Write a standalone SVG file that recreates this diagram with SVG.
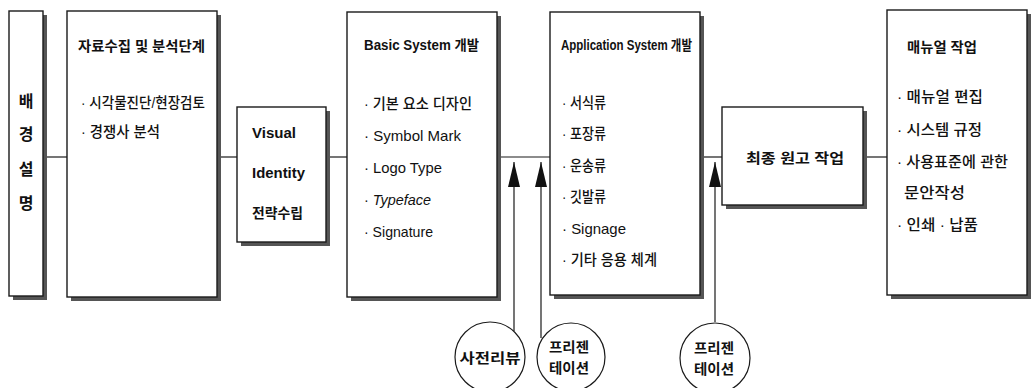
<svg xmlns="http://www.w3.org/2000/svg" width="1034" height="388" viewBox="0 0 1034 388">
<style>
  .box{fill:#fff;stroke:#1a1a1a;stroke-width:1.4}
  .sh{fill:#555}
  .conn{stroke:#1a1a1a;stroke-width:1.2;fill:none}
  .circ{fill:#fff;stroke:#1a1a1a;stroke-width:1.2}
  text{font-family:"Liberation Sans","Noto Sans CJK KR",sans-serif;fill:#111}
  .t{font-size:14px;font-weight:bold}
  .b{font-size:14.5px;font-weight:500}
  .v{font-size:16px;font-weight:bold}
  .c{font-size:14px;font-weight:bold;text-anchor:middle}
</style>
<defs>
  <marker id="ah" viewBox="0 0 25 12" refX="25" refY="6" markerWidth="25" markerHeight="12" markerUnits="userSpaceOnUse" orient="auto">
    <path d="M0,0 L25,6 L0,12 z" fill="#111"/>
  </marker>
</defs>

<g id="connectors">
  <line class="conn" x1="43" y1="157" x2="67" y2="157"/>
  <line class="conn" x1="217" y1="157" x2="237" y2="157"/>
  <line class="conn" x1="326" y1="157" x2="347" y2="157"/>
  <line class="conn" x1="497" y1="157" x2="550" y2="157"/>
  <line class="conn" x1="700" y1="157" x2="722" y2="157"/>
  <line class="conn" x1="863" y1="157" x2="887" y2="157"/>
  <line class="conn" x1="514" y1="331" x2="514" y2="162" marker-end="url(#ah)"/>
  <line class="conn" x1="541" y1="338" x2="541" y2="162" marker-end="url(#ah)"/>
  <line class="conn" x1="715" y1="322" x2="715" y2="162" marker-end="url(#ah)"/>
</g>

<g id="node-background">
  <rect class="sh" x="13" y="15" width="34" height="285"/>
  <rect class="box" x="9" y="11" width="34" height="285"/>
  <text class="v" x="26" y="107" text-anchor="middle">배</text>
  <text class="v" x="26" y="140" text-anchor="middle">경</text>
  <text class="v" x="26" y="175" text-anchor="middle">설</text>
  <text class="v" x="26" y="209" text-anchor="middle">명</text>
</g>

<g id="node-research">
  <rect class="sh" x="71" y="15" width="150" height="286"/>
  <rect class="box" x="67" y="11" width="150" height="286"/>
  <text class="t" x="78" y="51" textLength="127" lengthAdjust="spacingAndGlyphs">자료수집 및 분석단계</text>
  <text class="b" x="81" y="108" textLength="124" lengthAdjust="spacingAndGlyphs">· 시각물진단/현장검토</text>
  <text class="b" x="81" y="137" textLength="79" lengthAdjust="spacingAndGlyphs">· 경쟁사 분석</text>
</g>

<g id="node-vi">
  <rect class="sh" x="241" y="111" width="89" height="135"/>
  <rect class="box" x="237" y="107" width="89" height="135"/>
  <text class="t" x="252" y="138" font-size="15" textLength="44" lengthAdjust="spacingAndGlyphs">Visual</text>
  <text class="t" x="252" y="178" font-size="15" textLength="53" lengthAdjust="spacingAndGlyphs">Identity</text>
  <text class="t" x="252" y="218" font-size="15" textLength="51" lengthAdjust="spacingAndGlyphs">전략수립</text>
</g>

<g id="node-basic">
  <rect class="sh" x="351" y="16" width="150" height="285"/>
  <rect class="box" x="347" y="12" width="150" height="285"/>
  <text class="t" x="364" y="50" textLength="115" lengthAdjust="spacingAndGlyphs">Basic System 개발</text>
  <text class="b" x="364" y="109" textLength="108" lengthAdjust="spacingAndGlyphs">· 기본 요소 디자인</text>
  <text class="b" x="364" y="141" textLength="97" lengthAdjust="spacingAndGlyphs">· Symbol Mark</text>
  <text class="b" x="364" y="173" textLength="78" lengthAdjust="spacingAndGlyphs">· Logo Type</text>
  <text class="b" x="364" y="205" textLength="67" lengthAdjust="spacingAndGlyphs">· <tspan font-style="italic">Typeface</tspan></text>
  <text class="b" x="364" y="237" textLength="69" lengthAdjust="spacingAndGlyphs">· Signature</text>
</g>

<g id="node-application">
  <rect class="sh" x="554" y="16" width="150" height="283"/>
  <rect class="box" x="550" y="12" width="150" height="283"/>
  <text class="t" x="561" y="50" textLength="131" lengthAdjust="spacingAndGlyphs">Application System 개발</text>
  <text class="b" x="562" y="108" textLength="44" lengthAdjust="spacingAndGlyphs">· 서식류</text>
  <text class="b" x="562" y="139" textLength="44" lengthAdjust="spacingAndGlyphs">· 포장류</text>
  <text class="b" x="562" y="171" textLength="44" lengthAdjust="spacingAndGlyphs">· 운송류</text>
  <text class="b" x="562" y="202" textLength="44" lengthAdjust="spacingAndGlyphs">· 깃발류</text>
  <text class="b" x="562" y="234" textLength="64" lengthAdjust="spacingAndGlyphs">· Signage</text>
  <text class="b" x="562" y="265" textLength="95" lengthAdjust="spacingAndGlyphs">· 기타 응용 체계</text>
</g>

<g id="node-final">
  <rect class="sh" x="726" y="111" width="141" height="98"/>
  <rect class="box" x="722" y="107" width="141" height="98"/>
  <text class="t" x="746" y="163" font-size="16" textLength="98" lengthAdjust="spacingAndGlyphs">최종 원고 작업</text>
</g>

<g id="node-manual">
  <rect class="sh" x="891" y="14" width="140" height="285"/>
  <rect class="box" x="887" y="10" width="140" height="285"/>
  <text class="t" x="907" y="52" textLength="70" lengthAdjust="spacingAndGlyphs">매뉴얼 작업</text>
  <text class="b" x="897" y="102" textLength="86" lengthAdjust="spacingAndGlyphs">· 매뉴얼 편집</text>
  <text class="b" x="897" y="135" textLength="85" lengthAdjust="spacingAndGlyphs">· 시스템 규정</text>
  <text class="b" x="897" y="167" textLength="111" lengthAdjust="spacingAndGlyphs">· 사용표준에 관한</text>
  <text class="b" x="904" y="198" textLength="61" lengthAdjust="spacingAndGlyphs">문안작성</text>
  <text class="b" x="897" y="230" textLength="81" lengthAdjust="spacingAndGlyphs">· 인쇄 · 납품</text>
</g>

<g id="node-prereview">
  <circle class="circ" cx="490" cy="357" r="35"/>
  <text class="c" x="490" y="363" font-size="15" textLength="61" lengthAdjust="spacingAndGlyphs">사전리뷰</text>
</g>

<g id="node-presentation1">
  <circle class="circ" cx="571" cy="357" r="34"/>
  <text class="c" x="569" y="352" textLength="40" lengthAdjust="spacingAndGlyphs">프리젠</text>
  <text class="c" x="569" y="373" textLength="40" lengthAdjust="spacingAndGlyphs">테이션</text>
</g>

<g id="node-presentation2">
  <circle class="circ" cx="715" cy="358" r="35"/>
  <text class="c" x="714" y="353" textLength="40" lengthAdjust="spacingAndGlyphs">프리젠</text>
  <text class="c" x="714" y="374" textLength="40" lengthAdjust="spacingAndGlyphs">테이션</text>
</g>
</svg>
